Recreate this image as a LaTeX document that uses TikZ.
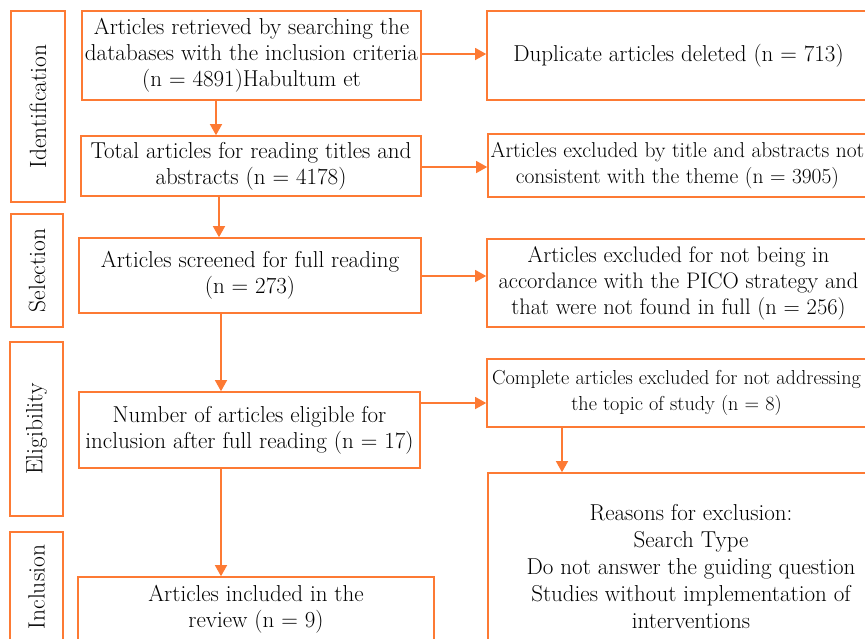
\documentclass[tikz,border=0pt]{standalone}
\usepackage{xcolor}
\usepackage{tikz}
\usetikzlibrary{arrows.meta}
\definecolor{prisma}{RGB}{253,122,52}

\begin{document}
\begin{tikzpicture}[x=1pt,y=-1pt,
  stage/.style={draw=prisma,line width=2pt,rotate=90,inner sep=0pt,font=\fontsize{23.5}{26}\selectfont},
  box/.style={draw=prisma,line width=1.6pt,inner sep=0pt,align=center,font=\fontsize{23}{26}\selectfont},
  arr/.style={draw=prisma,line width=1.3pt,-{Triangle[length=11pt,width=12pt]}}]
\useasboundingbox (0,0) rectangle (865,638);
\clip (0,0) rectangle (865,638);
\node[stage,minimum width=191,minimum height=54] (idf) at (38,106.5) {Identification};
\node[stage,minimum width=113,minimum height=52] (sel) at (37,270.5) {Selection};
\node[stage,minimum width=174,minimum height=53] (elig) at (36.5,429) {Eligibility};
\node[stage,minimum width=110,minimum height=53] (incl) at (36.5,587) {Inclusion};

\node[box,minimum width=339,minimum height=89] (b1) at (251.5,55.5) {Articles retrieved by searching the\\databases with the inclusion criteria\\(n = 4891)Habultum et};
\node[box,minimum width=340,minimum height=60] (b2) at (251,166) {Total articles for reading titles and\\abstracts (n = 4178)};
\node[box,minimum width=342,minimum height=75] (b3) at (250,275.5) {Articles screened for full reading\\(n = 273)};
\node[box,minimum width=341,minimum height=76] (b4) at (249.5,430) {Number of articles eligible for\\inclusion after full reading (n = 17)};
\node[box,minimum width=356,minimum height=65] (b5) at (256,609.5) {Articles included in the\\review (n = 9)};

\node[box,minimum width=383,minimum height=89] (r1) at (678.5,55.5) {Duplicate articles deleted (n = 713)};
\node[box,minimum width=379,minimum height=63,font=\fontsize{21.5}{26}\selectfont] (r2) at (677.5,165.5) {Articles excluded by title and abstracts not\\consistent with the theme (n = 3905)};
\node[box,minimum width=383,minimum height=88,font=\fontsize{22.5}{26}\selectfont] (r3) at (678.5,283) {Articles excluded for not being in\\accordance with the PICO strategy and\\that were not found in full (n = 256)};
\node[box,minimum width=379,minimum height=68,font=\fontsize{20.2}{26}\selectfont] (r4) at (676.5,393) {Complete articles excluded for not addressing\\the topic of study (n = 8)};
\node[box,minimum width=406,minimum height=188,font=\fontsize{23}{27}\selectfont] (r5) at (691,567) {Reasons for exclusion:\\Search Type\\Do not answer the guiding question\\Studies without implementation of\\interventions};

\coordinate (a1) at (216,100);
\coordinate (a2) at (219,196);
\coordinate (a3) at (221,313);
\coordinate (a4) at (221,468);
\coordinate (a5) at (420,403);
\coordinate (a6) at (562,427);
\draw[arr] (a1) -- (a1 |- b2.north);
\draw[arr] (a2) -- (a2 |- b3.north);
\draw[arr] (a3) -- (a3 |- b4.north);
\draw[arr] (a4) -- (a4 |- b5.north);
\draw[arr] (b1.east |- 0,54) -- (r1.west |- 0,54);
\draw[arr] (b2.east |- 0,167) -- (r2.west |- 0,167);
\draw[arr] (b3.east |- 0,276) -- (r3.west |- 0,276);
\draw[arr] (a5) -- (a5 -| r4.west);
\draw[arr] (a6) -- (a6 |- r5.north);
\end{tikzpicture}
\end{document}
